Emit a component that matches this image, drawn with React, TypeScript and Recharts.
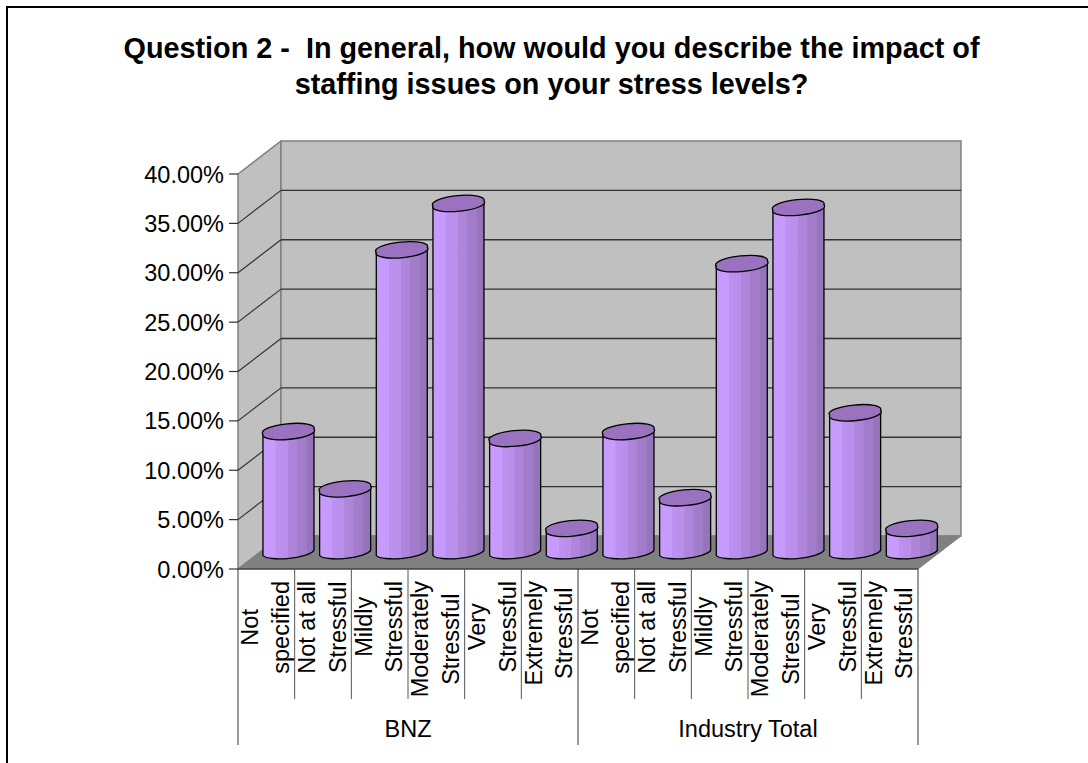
import { Bar, BarChart, CartesianGrid, ReferenceArea, XAxis, YAxis } from 'recharts';

const categories = [
  'Not|specified',
  'Not at all|Stressful',
  'Mildly|Stressful',
  'Moderately|Stressful',
  'Very|Stressful',
  'Extremely|Stressful',
];
const groups = ['BNZ', 'Industry Total'];
const bnzValues = [12.3, 6.5, 30.7, 35.4, 11.6, 2.5];
const industryValues = [12.3, 5.6, 29.3, 35.0, 14.2, 2.5];
const yTicks = [0, 5, 10, 15, 20, 25, 30, 35, 40];

const titleLines = [
  'Question 2 -  In general, how would you describe the impact of',
  'staffing issues on your stress levels?',
];

const rows = [
  ...bnzValues.map((value, i) => ({ key: `bnz-${i}`, label: categories[i], group: groups[0], value })),
  ...industryValues.map((value, i) => ({ key: `ind-${i}`, label: categories[i], group: groups[1], value })),
];

// oblique offset of the back wall
const DX = 43;
const DY = -33;
const FONT = '"Liberation Sans", Arial, sans-serif';
const LABEL_SIZE = 23.5;
// recharts pushes ticks away from the axis by tickSize + tickMargin
const TICK_GAP = 8;

const measureCtx = document.createElement('canvas').getContext('2d')!;
measureCtx.font = `${LABEL_SIZE}px "Liberation Sans"`;

function Walls(props: any) {
  const { x, y, width, height } = props;
  const bottom = y + height;
  const right = x + width;
  return (
    <g>
      <path
        d={`M${x} ${y} L${x + DX} ${y + DY} L${x + DX} ${bottom + DY} L${x} ${bottom} Z`}
        fill="#c0c0c0"
        stroke="#808080"
        strokeWidth={1.5}
      />
      <rect x={x + DX} y={y + DY} width={width} height={height} fill="#c0c0c0" stroke="#808080" strokeWidth={1.5} />
      <path
        d={`M${x} ${bottom} L${x + DX} ${bottom + DY} L${right + DX} ${bottom + DY} L${right} ${bottom} Z`}
        fill="#808080"
        stroke="#808080"
      />
    </g>
  );
}

// gridline across the back wall plus its diagonal on the side wall
function GridLine(props: any) {
  const { x1, x2, y1 } = props;
  return (
    <g>
      <line x1={x1} y1={y1} x2={x1 + DX} y2={y1 + DY} stroke="#333" strokeWidth={1.2} />
      <line x1={x1 + DX} y1={y1 + DY} x2={x2 + DX} y2={y1 + DY} stroke="#333" strokeWidth={1.4} />
    </g>
  );
}

// bars stand halfway into the floor, so the column is shifted along the depth axis
function Cylinder(props: any) {
  const { x, y, width, height } = props;
  const cx = x + width / 2 + 22.3;
  const r = width / 2;
  const left = cx - r;
  const right = cx + r;
  const top = y - 16;
  const base = y + height - 16;
  const tilt = 2.6;
  const arc = `${r + 0.6} 6.6 -5.5`;
  const cap = `M${left} ${top + tilt} A${arc} 1 1 ${right} ${top - tilt} A${arc} 1 1 ${left} ${top + tilt} Z`;
  const body = `M${left} ${top + tilt} L${left} ${base + tilt} A${arc} 0 0 ${right} ${base - tilt} L${right} ${top - tilt} Z`;
  return (
    <g>
      <path d={body} fill="url(#cylinderBody)" stroke="#000" strokeWidth={1.3} strokeLinejoin="round" />
      <path d={cap} fill="#9b72c0" stroke="#000" strokeWidth={1.3} strokeLinejoin="round" />
    </g>
  );
}

function YTick(props: any) {
  const { x, y, payload } = props;
  const axisX = x + TICK_GAP;
  return (
    <g>
      <line x1={axisX - 9} y1={y} x2={axisX} y2={y} stroke="#333" strokeWidth={1.2} />
      <text x={axisX - 14} y={y + 8.5} textAnchor="end" fontSize={LABEL_SIZE} fontFamily={FONT} fill="#000">
        {`${Number(payload.value).toFixed(2)}%`}
      </text>
    </g>
  );
}

const BAND = 680 / 12;

function CategoryTick(props: any) {
  const { x, y, index } = props;
  const axisY = y - TICK_GAP;
  const lines: string[] = rows[index].label.split('|');
  const longest = Math.max(...lines.map((l) => measureCtx.measureText(l).width));
  const sepX = x + BAND / 2;
  // both lines read bottom to top, centred on the longer one, which hangs 12px off the axis
  const midY = axisY + 12 + longest / 2;
  return (
    <g>
      {index < 11 && index !== 5 && (
        <line x1={sepX} y1={axisY} x2={sepX} y2={axisY + 130} stroke="#555" strokeWidth={1} />
      )}
      {lines.map((line, i) => (
        <text
          key={line}
          transform={`translate(${x - 8 + i * 30.6} ${midY}) rotate(-90)`}
          textAnchor="middle"
          fontSize={LABEL_SIZE}
          fontFamily={FONT}
          fill="#000"
        >
          {line}
        </text>
      ))}
    </g>
  );
}

function GroupTick(props: any) {
  const { x, y, payload } = props;
  return (
    <text x={x} y={y + 30} textAnchor="middle" fontSize={LABEL_SIZE} fontFamily={FONT} fill="#000">
      {payload.value}
    </text>
  );
}

function GroupSeparators(props: any) {
  const { x, width, y, height } = props;
  const bottom = y + height;
  return (
    <g stroke="#333" strokeWidth={1}>
      {[0, 0.5, 1].map((f) => (
        <line key={f} x1={x + width * f} y1={bottom} x2={x + width * f} y2={bottom + 176} />
      ))}
    </g>
  );
}

export default function App() {
  return (
    <div style={{ position: 'absolute', left: 0, top: 0, width: 1088, height: 763, background: '#fff', overflow: 'hidden' }}>
      <div style={{ position: 'absolute', left: 6, top: 6, width: 1082, height: 757, borderLeft: '2px solid #000', borderTop: '2px solid #000', boxSizing: 'border-box' }} />
      <div
        style={{
          position: 'absolute',
          left: 15,
          top: 30,
          width: 1073,
          textAlign: 'center',
          fontFamily: FONT,
          fontWeight: 'bold',
          fontSize: 28.8,
          lineHeight: '36px',
          color: '#000',
          whiteSpace: 'pre',
        }}
      >
        {titleLines.join('\n')}
      </div>
      <BarChart
        width={1088}
        height={763}
        data={rows}
        margin={{ top: 174, right: 170, bottom: 18, left: 0 }}
        barCategoryGap="4.7%"
        style={{ position: 'absolute', left: 0, top: 0 }}
      >
        <defs>
          <linearGradient id="cylinderBody" x1="0" y1="0" x2="1" y2="0">
            <stop offset="0" stopColor="#c79afe" />
            <stop offset="0.24" stopColor="#c79afe" />
            <stop offset="0.25" stopColor="#bc91f0" />
            <stop offset="0.48" stopColor="#b98fea" />
            <stop offset="0.49" stopColor="#af86dc" />
            <stop offset="0.66" stopColor="#ac84d8" />
            <stop offset="0.67" stopColor="#a37dcc" />
            <stop offset="0.85" stopColor="#a17cca" />
            <stop offset="0.86" stopColor="#9775bc" />
            <stop offset="1" stopColor="#9374b8" />
          </linearGradient>
        </defs>
        <XAxis
          xAxisId="cat"
          dataKey="key"
          type="category"
          height={130}
          interval={0}
          tick={<CategoryTick />}
          tickLine={false}
          axisLine={{ stroke: '#222', strokeWidth: 1 }}
        />
        <XAxis
          xAxisId="grp"
          dataKey="group"
          type="category"
          allowDuplicatedCategory={false}
          height={46}
          interval={0}
          tick={<GroupTick />}
          tickLine={false}
          axisLine={false}
        />
        <YAxis
          type="number"
          width={238}
          domain={[0, 40]}
          ticks={[...yTicks]}
          interval={0}
          tick={<YTick />}
          tickLine={false}
          axisLine={false}
        />
        <ReferenceArea xAxisId="cat" shape={<Walls />} ifOverflow="visible" fill="none" stroke="none" zIndex={-200} />
        <CartesianGrid
          xAxisId="cat"
          vertical={false}
          horizontal={<GridLine />}
          horizontalValues={yTicks.slice(1, -1)}
          zIndex={-100}
        />
        <ReferenceArea xAxisId="cat" shape={<GroupSeparators />} ifOverflow="visible" fill="none" stroke="none" />
        <Bar xAxisId="cat" dataKey="value" isAnimationActive={false} shape={<Cylinder />} />
      </BarChart>
    </div>
  );
}
